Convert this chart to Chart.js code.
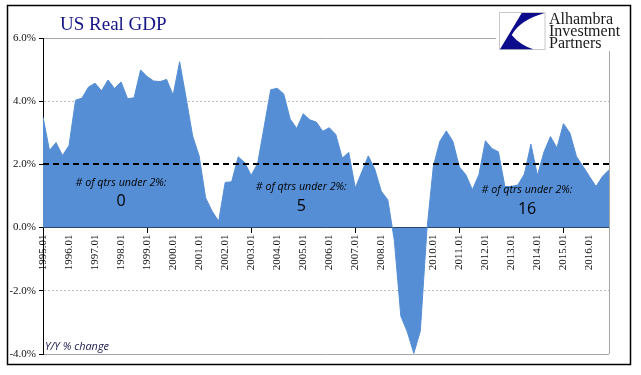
<!DOCTYPE html>
<html><head><meta charset="utf-8">
<script src="https://cdn.jsdelivr.net/npm/chart.js@4.4.1/dist/chart.umd.min.js"></script>
<style>html,body{margin:0;padding:0;background:#fff;} canvas{display:block;}</style>
</head><body>
<canvas id="c" width="641" height="375"></canvas>
<script>
const quarters = [
 '1995.01','1995.02','1995.03','1995.04','1996.01','1996.02','1996.03','1996.04',
 '1997.01','1997.02','1997.03','1997.04','1998.01','1998.02','1998.03','1998.04',
 '1999.01','1999.02','1999.03','1999.04','2000.01','2000.02','2000.03','2000.04',
 '2001.01','2001.02','2001.03','2001.04','2002.01','2002.02','2002.03','2002.04',
 '2003.01','2003.02','2003.03','2003.04','2004.01','2004.02','2004.03','2004.04',
 '2005.01','2005.02','2005.03','2005.04','2006.01','2006.02','2006.03','2006.04',
 '2007.01','2007.02','2007.03','2007.04','2008.01','2008.02','2008.03','2008.04',
 '2009.01','2009.02','2009.03','2009.04','2010.01','2010.02','2010.03','2010.04',
 '2011.01','2011.02','2011.03','2011.04','2012.01','2012.02','2012.03','2012.04',
 '2013.01','2013.02','2013.03','2013.04','2014.01','2014.02','2014.03','2014.04',
 '2015.01','2015.02','2015.03','2015.04','2016.01','2016.02','2016.03','2016.04'
];
const gdpYoY = [
 3.50, 2.44, 2.69, 2.28,  2.60, 4.03, 4.10, 4.45,
 4.57, 4.33, 4.67, 4.40,  4.61, 4.08, 4.11, 4.99,
 4.78, 4.64, 4.62, 4.69,  4.19, 5.25, 4.10, 2.90,
 2.27, 0.94, 0.52, 0.20,  1.43, 1.45, 2.24, 2.06,
 1.65, 2.04, 3.20, 4.36,  4.41, 4.23, 3.43, 3.14,
 3.60, 3.41, 3.34, 3.05,  3.16, 2.95, 2.20, 2.38,
 1.25, 1.76, 2.27, 1.85,  1.15, 0.88, -0.40, -2.80,
 -3.30, -3.98, -3.27, -0.10, 1.94, 2.73, 3.06, 2.73,
 1.92, 1.67, 1.20, 1.67,  2.75, 2.50, 2.40, 1.30,
 1.30, 1.35, 1.70, 2.64,  1.65, 2.39, 2.88, 2.52,
 3.29, 2.99, 2.25, 1.94,  1.62, 1.30, 1.62, 1.83
];
const yTicks = [-4, -2, 0, 2, 4, 6];
const threshold = 2;
const noteLabel = '# of qtrs under 2%:';
const noteCounts = ['0', '5', '16'];
const noteAt = [12, 39.7, 74.4];
const noteTextY = [1.42, 1.30, 1.18];
const noteNumY = [0.82, 0.67, 0.59];
const titleText = 'US Real GDP';
const unitText = 'Y/Y % change';
const logoLines = ['Alhambra', 'Investment', 'Partners'];

const FILL = 'rgb(85,142,213)';

function fitSize(ctx, text, style, family, targetW, base) {
  ctx.font = style + ' ' + base + 'px ' + family;
  const w = ctx.measureText(text).width;
  return base * targetW / w;
}

const decor = {
  id: 'decor',
  beforeDraw(chart) {
    const ctx = chart.ctx;
    ctx.save();
    ctx.fillStyle = '#fff';
    ctx.fillRect(0, 0, chart.width, chart.height);
    ctx.restore();
  },
  afterDatasetsDraw(chart) {
    const ctx = chart.ctx, ca = chart.chartArea, ys = chart.scales.y;
    const y = Math.round(ys.getPixelForValue(threshold));
    ctx.save();
    ctx.strokeStyle = '#000';
    ctx.lineWidth = 2;
    ctx.setLineDash([6, 4]);
    ctx.beginPath();
    ctx.moveTo(ca.left, y);
    ctx.lineTo(ca.right, y);
    ctx.stroke();
    ctx.restore();
  },
  afterDraw(chart) {
    const ctx = chart.ctx, ca = chart.chartArea, xs = chart.scales.x, ys = chart.scales.y;
    ctx.save();
    // right border of plot
    ctx.strokeStyle = '#a6a6a6';
    ctx.lineWidth = 1;
    ctx.beginPath();
    ctx.moveTo(Math.round(ca.right) + 0.5, ca.top);
    ctx.lineTo(Math.round(ca.right) + 0.5, ca.bottom);
    ctx.stroke();

    // logo area
    ctx.fillStyle = '#fff';
    ctx.fillRect(496, 9, 132, 42);
    ctx.strokeStyle = '#c8c8c8';
    ctx.lineWidth = 1;
    ctx.strokeRect(499.5, 12.5, 45.5, 37);
    ctx.fillStyle = '#0c0c8c';
    ctx.beginPath();
    ctx.moveTo(521.7, 13);
    ctx.lineTo(544.5, 13);
    ctx.quadraticCurveTo(520, 20, 511.7, 35);
    ctx.quadraticCurveTo(520, 45, 533.3, 49.3);
    ctx.lineTo(500, 49.3);
    ctx.closePath();
    ctx.fill();
    ctx.fillStyle = '#1a1a1a';
    ctx.font = '16px "Liberation Serif"';
    ctx.textAlign = 'left';
    ctx.textBaseline = 'alphabetic';
    ctx.fillText(logoLines[0], 549, 24);
    ctx.fillText(logoLines[1], 549, 36);
    ctx.fillText(logoLines[2], 549, 47.5);

    // title
    ctx.fillStyle = '#141485';
    ctx.font = '19px "Liberation Serif"';
    ctx.fillText(titleText, 60, 30);

    // unit note
    const us = fitSize(ctx, unitText, 'italic', '"Open Sans"', 64, 10);
    ctx.font = 'italic ' + us + 'px "Open Sans"';
    ctx.fillStyle = '#1a1a50';
    ctx.fillText(unitText, 45, 350);

    // annotations
    const ns = fitSize(ctx, noteLabel, 'italic', '"Open Sans"', 91, 11);
    ctx.textAlign = 'center';
    ctx.textBaseline = 'middle';
    ctx.fillStyle = '#000';
    for (let i = 0; i < noteCounts.length; i++) {
      const x = xs.getPixelForValue(noteAt[i]);
      ctx.font = 'italic ' + ns + 'px "Open Sans"';
      ctx.fillText(noteLabel, x, ys.getPixelForValue(noteTextY[i]));
      ctx.font = '16px "Open Sans"';
      ctx.fillText(noteCounts[i], x, ys.getPixelForValue(noteNumY[i]));
    }

    // outer frame
    ctx.strokeStyle = '#000';
    ctx.lineWidth = 1.5;
    ctx.strokeRect(7.5, 5.5, 623, 359);
    ctx.restore();
  }
};

const gridColor = (v) => {
  if (v === yTicks[0] || v === yTicks[yTicks.length - 1]) return '#a6a6a6';
  if (v === 0 || v === threshold) return 'rgba(0,0,0,0)';
  return '#bdbdbd';
};

new Chart(document.getElementById('c'), {
  type: 'line',
  data: {
    labels: quarters,
    datasets: [{
      data: gdpYoY,
      fill: 'origin',
      backgroundColor: FILL,
      borderColor: FILL,
      borderWidth: 1,
      pointRadius: 0,
      tension: 0
    }]
  },
  plugins: [decor],
  options: {
    responsive: false,
    animation: false,
    devicePixelRatio: 1,
    layout: { padding: { top: 38, right: 32, bottom: 21, left: 0 } },
    plugins: { legend: { display: false }, tooltip: { enabled: false }, title: { display: false } },
    scales: {
      x: {
        type: 'category',
        position: { y: 0 },
        offset: false,
        z: 1,
        grid: {
          drawOnChartArea: false,
          drawTicks: true,
          tickLength: 5,
          tickColor: (c) => (c.tick && quarters[c.index] && quarters[c.index].endsWith('.01')) ? '#000' : 'rgba(0,0,0,0)',
          color: '#000'
        },
        border: { display: true, color: '#000', width: 1 },
        ticks: {
          autoSkip: false,
          minRotation: 90,
          maxRotation: 90,
          padding: 2,
          color: '#111',
          font: { family: '"Liberation Serif"', size: 11 },
          callback: function (v, i) { return quarters[i].endsWith('.01') ? quarters[i] : null; }
        }
      },
      y: {
        min: yTicks[0],
        max: yTicks[yTicks.length - 1],
        afterFit: (s) => { s.width = 43; },
        grid: {
          color: (c) => c.tick ? gridColor(c.tick.value) : '#a6a6a6',
          lineWidth: 1,
          tickLength: 4,
          tickColor: '#000'
        },
        border: {
          display: true, color: '#000', width: 1,
          dash: (c) => (c.tick && (c.tick.value === 4 || c.tick.value === -2)) ? [2, 2] : []
        },
        ticks: {
          stepSize: 2,
          padding: 3,
          color: '#111',
          font: { family: '"Liberation Serif"', size: 11 },
          callback: (v) => v.toFixed(1) + '%'
        }
      }
    }
  }
});
</script>
</body></html>
